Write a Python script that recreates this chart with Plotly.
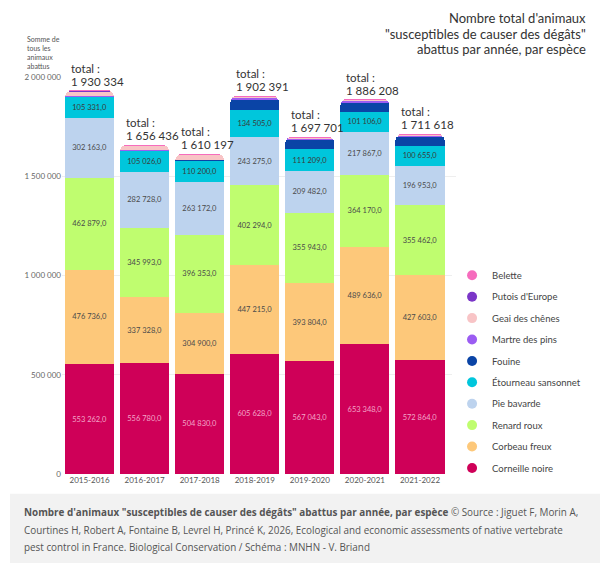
import plotly.graph_objects as go

years = ["2015-2016", "2016-2017", "2017-2018", "2018-2019", "2019-2020", "2020-2021", "2021-2022"]
totals = [1930334, 1656436, 1610197, 1902391, 1697701, 1886208, 1711618]

corneille = [553262, 556780, 504830, 605628, 567043, 653348, 572864]
corbeau = [476736, 337328, 304900, 447215, 393804, 489636, 427603]
renard = [462879, 345993, 396353, 402294, 355943, 364170, 355462]
pie = [302163, 282728, 263172, 243275, 209482, 217867, 196953]
etourneau = [105331, 105026, 110200, 134505, 111209, 101106, 100655]
# petites espèces : estimées à l'oeil
fouine = [3500, 3000, 3200, 50000, 44000, 43500, 42000]
martre = [1800, 1600, 1700, 12500, 11000, 11500, 11200]
geai = [23500, 22800, 24700, 5200, 4000, 4100, 4000]
putois = [300, 300, 300, 800, 600, 500, 500]
belette = [863, 881, 842, 974, 620, 481, 381]

series = [
    ("Corneille noire", corneille, "#cf0058", True, "#f3a6c8"),
    ("Corbeau freux", corbeau, "#fdc87a", True, "#4a4a4a"),
    ("Renard roux", renard, "#bffd6f", True, "#4a4a4a"),
    ("Pie bavarde", pie, "#bdd3ee", True, "#4a4a4a"),
    ("Étourneau sansonnet", etourneau, "#00c6dc", True, "#3a3a3a"),
    ("Fouine", fouine, "#0a44a6", False, None),
    ("Martre des pins", martre, "#9b5cf2", False, None),
    ("Geai des chênes", geai, "#f8c4c6", False, None),
    ("Putois d'Europe", putois, "#7b36c8", False, None),
    ("Belette", belette, "#f66cbd", False, None),
]

fig = go.Figure()
for name, vals, color, labelled, tcolor in series:
    fig.add_trace(go.Bar(
        x=years, y=vals, name=name, marker=dict(color=color, line=dict(width=0)),
        showlegend=False,
        texttemplate="%{y:,.1f}" if labelled else None,
        textposition="inside" if labelled else "none",
        insidetextanchor="middle", textangle=0,
        textfont=dict(size=7.5, color=tcolor or "#333"),
        hoverinfo="x+y+name",
    ))

# entrées de légende rondes, Belette en haut
for name, vals, color, labelled, tcolor in reversed(series):
    fig.add_trace(go.Scatter(
        x=[None], y=[None], mode="markers", name=name, legendgroup=name,
        marker=dict(size=10, color=color), showlegend=True,
    ))

for yr, t in zip(years, totals):
    fig.add_annotation(
        x=yr, y=t, text=f"{t:,}".replace(",", " "),
        xanchor="left", yanchor="bottom", xshift=-21, yshift=1,
        showarrow=False, font=dict(size=11.5, color="#333"),
    )
    fig.add_annotation(
        x=yr, y=t, text="total :",
        xanchor="left", yanchor="bottom", xshift=-21, yshift=14,
        showarrow=False, font=dict(size=11.5, color="#333"),
    )

fig.add_annotation(
    xref="paper", yref="paper", x=-0.094, y=1.11, xanchor="left", yanchor="top",
    text="Somme de<br>tous les<br>animaux<br>abattus", align="left", showarrow=False,
    font=dict(size=7, color="#555"),
)
title_lines = ["Nombre total d'animaux", "\"susceptibles de causer des dégâts\"", "abattus par année, par espèce"]
for i, line in enumerate(title_lines):
    fig.add_annotation(
        xref="paper", yref="paper", x=1.335, y=1.148 - i * 0.039, xanchor="right", yanchor="middle",
        text=line, showarrow=False, font=dict(size=13, color="#333"),
    )

# bandeau de légende en bas
fig.add_shape(type="rect", xref="paper", yref="paper", x0=-0.132, x1=1.37, y0=-0.05, y1=-0.23,
              fillcolor="#f2f2f2", line=dict(width=0), layer="below")
caption = [
    "<b>Nombre d'animaux \"susceptibles de causer des dégâts\" abattus par année, par espèce</b> © Source : Jiguet F, Morin A,",
    "Courtines H, Robert A, Fontaine B, Levrel H, Princé K, 2026, Ecological and economic assessments of native vertebrate",
    "pest control in France. Biological Conservation / Schéma : MNHN - V. Briand",
]
for i, line in enumerate(caption):
    fig.add_annotation(
        xref="paper", yref="paper", x=-0.102, y=-0.096 - i * 0.044, xanchor="left", yanchor="middle",
        align="left", showarrow=False, font=dict(family="Open Sans", size=9.9, color="#555"),
        text=line,
    )

fig.update_layout(
    width=600, height=563,
    margin=dict(l=62, r=144, t=77, b=89, autoexpand=False),
    barmode="stack", bargap=0.11, barcornerradius=6,
    separators=", ",
    paper_bgcolor="white", plot_bgcolor="white",
    font=dict(family="Lato", color="#444"),
    legend=dict(x=0.99, y=0.537, xanchor="left", yanchor="top",
                traceorder="grouped", tracegroupgap=2.4,
                font=dict(size=9.5, color="#444"), itemwidth=30),
    xaxis=dict(tickfont=dict(size=8, color="#555"), showgrid=False, ticks=""),
    yaxis=dict(range=[0, 2000000], tickvals=[0, 500000, 1000000, 1500000, 2000000],
               tickformat=",d", tickfont=dict(size=8, color="#666"),
               gridcolor="#eeeeee", zeroline=False),
)

fig.write_html("out.html", config={"displayModeBar": False},
               post_script="document.body.style.margin='0px';")
